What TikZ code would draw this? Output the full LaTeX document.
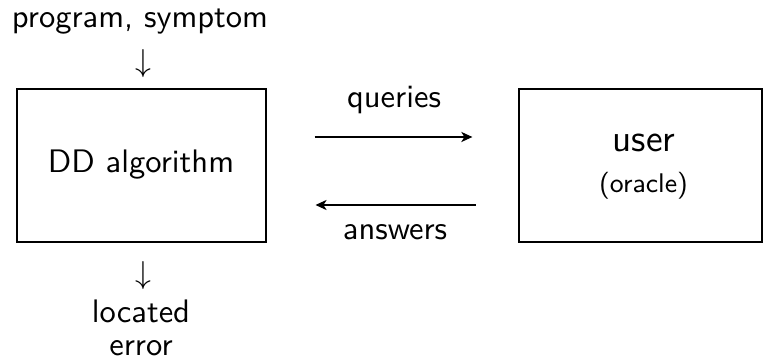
\documentclass[tikz,border=0pt]{standalone}
\usetikzlibrary{arrows.meta}
\begin{document}
\begin{tikzpicture}[x=0.315pt,y=-0.315pt,
    every node/.style={font=\sffamily\fontsize{10.25}{12}\selectfont, inner sep=0pt},
    box/.style={draw, line width=0.42pt},
    lbl/.style={anchor=base},
    flow/.style={line width=0.4pt, -{Stealth[length=3.5pt,width=3.2pt,inset=1pt]}}]
  \useasboundingbox (0,0) rectangle (764,364);

  % the two parties
  \node[box, minimum width=78.4pt, minimum height=48.2pt] (dd) at (141.5,165.5) {};
  \node[lbl] (ddtext) at (141,173) {DD algorithm};
  \node[box, minimum width=76.5pt, minimum height=48.2pt] (user) at (640.5,165.5) {};
  \node[lbl, font=\sffamily\fontsize{12}{14}\selectfont] (usertext) at (644,152) {user};
  \node[lbl, font=\sffamily\fontsize{8.5}{10}\selectfont] (oracle) at (643.5,193) {(oracle)};

  % input and output of the algorithm
  \node[lbl] (input) at (140,28) {program, symptom};
  \node[lbl] (downin) at (143,72) {$\downarrow$};
  \node[lbl] (downout) at (143,284) {$\downarrow$};
  \node[lbl] (located) at (141,323) {located};
  \node[lbl] (error) at (141,355) {error};

  % dialogue between the algorithm and the oracle
  \coordinate (qs) at (dd.east |- 0,137);
  \coordinate (qe) at (user.west |- 0,137);
  \coordinate (as) at (user.west |- 0,205);
  \coordinate (ae) at (dd.east |- 0,205);
  \draw[flow, shorten <=15.1pt, shorten >=14.5pt] (qs) -- (qe);
  \draw[flow, shorten <=13.5pt, shorten >=15.4pt] (as) -- (ae);
  \node[lbl] (queries) at (394,108) {queries};
  \node[lbl] (answers) at (395,240) {answers};
\end{tikzpicture}
\end{document}
